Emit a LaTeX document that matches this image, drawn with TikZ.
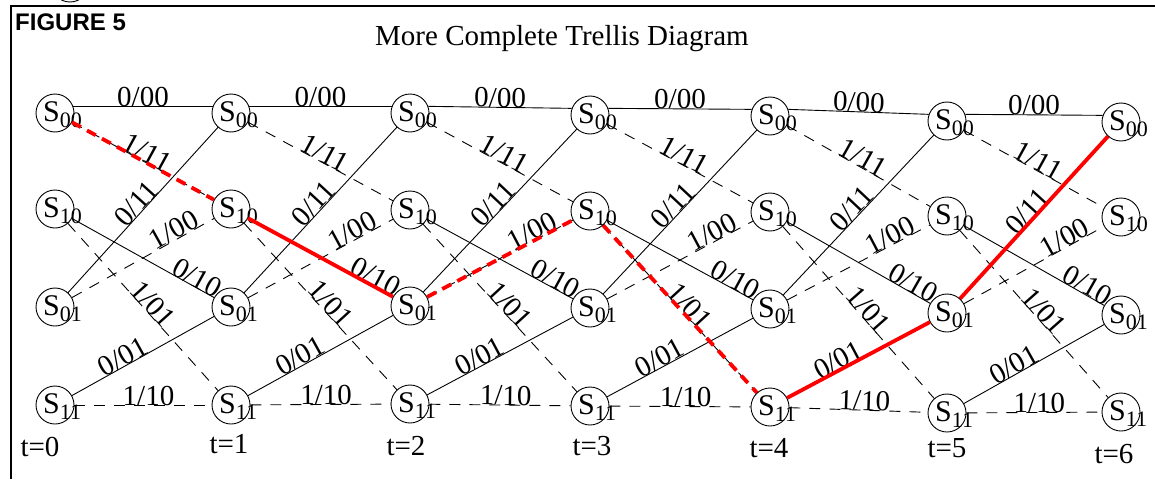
\documentclass[tikz,border=0pt]{standalone}
\usepackage{fontspec}
\setmainfont{Liberation Serif}
\newfontfamily\figsans{Liberation Sans}
\usetikzlibrary{calc}
\tikzset{
  st/.style={circle, draw=black, line width=0.9pt, minimum size=38pt, inner sep=0pt},
  stname/.style={anchor=base west, inner sep=0pt, font=\fontsize{30}{30}\selectfont},
  ln/.style={draw=black, line width=0.9pt},
  dsh/.style={draw=black, line width=0.9pt, dash pattern=on 11pt off 9pt},
  lbl/.style={sloped, anchor=base, inner sep=0pt, font=\fontsize{29}{29}\selectfont, text=black},
  redsolid/.style={draw=red, line width=3.8pt},
  reddash/.style={draw=red, line width=3.8pt, dash pattern=on 10pt off 7pt},
  tlbl/.style={anchor=base, inner sep=0pt, font=\fontsize{29}{29}\selectfont},
  frame/.style={draw=black, line width=2pt}
}
\newcommand{\stlabel}[1]{S\raisebox{-6pt}{\fontsize{22}{22}\selectfont #1}}
\begin{document}
\begin{tikzpicture}[x=1pt, y=-1pt]
\useasboundingbox (0,0) rectangle (1155,479);
% frame
\coordinate (fr1) at (10.5,479);
\coordinate (fr2) at (10.5,6);
\coordinate (fr3) at (1155,6);
\draw[frame] (fr1) -- (fr2) -- (fr3);
% cut-off remnant above the frame
\begin{scope}
\clip (0,0) rectangle (1155,5);
\node[anchor=base west, inner sep=0pt, font=\fontsize{22}{22}\selectfont] (rem) at (25,-1) {00};
\node[circle, draw, line width=0.9pt, minimum size=38pt, inner sep=0pt] (remc) at (70,-17) {};
\end{scope}
\node[anchor=base west, inner sep=0pt, font=\figsans\bfseries\fontsize{24}{24}\selectfont] (fig) at (15,30) {FIGURE 5};
\node[anchor=base west, inner sep=0pt, font=\fontsize{29}{29}\selectfont] (title) at (375,45) {More Complete Trellis Diagram};
% states
\foreach \i/\x/\ya/\yb/\yc/\yd in {0/55/113/209/307/405, 1/231/113/209/307/405, 2/410/113/210/306/404, 3/590/115/211/308/406, 4/770/116/212/309/407, 5/947/121/216/313/413, 6/1121/122/217/315/412}{
  \node[st] (a\i) at (\x,\ya) {};
  \node[st] (b\i) at (\x,\yb) {};
  \node[st] (c\i) at (\x,\yc) {};
  \node[st] (d\i) at (\x,\yd) {};
  \node[stname] (ta\i) at ($(a\i)+(-12,8)$) {\stlabel{00}};
  \node[stname] (tb\i) at ($(b\i)+(-12,8)$) {\stlabel{10}};
  \node[stname] (tc\i) at ($(c\i)+(-12,8)$) {\stlabel{01}};
  \node[stname] (td\i) at ($(d\i)+(-12,8)$) {\stlabel{11}};
}
% time labels
\node[tlbl] (t0) at (40,456) {t=0};
\node[tlbl] (t1) at (229,453) {t=1};
\node[tlbl] (t2) at (406,455) {t=2};
\node[tlbl] (t3) at (592,455) {t=3};
\node[tlbl] (t4) at (769,457) {t=4};
\node[tlbl] (t5) at (947,457) {t=5};
\node[tlbl] (t6) at (1114,463) {t=6};
% transitions
\foreach \i in {0,...,5}{
  \pgfmathtruncatemacro{\j}{\i+1}
  \draw[ln] (a\i.20) -- node[lbl, pos=.5] (l1-\i) {0/00} (a\j.160);
  \draw[dsh] (a\i) -- node[lbl, pos=.5] (l2-\i) {1/11} (b\j);
  \draw[ln] (c\i) -- node[lbl, pos=.5] (l3-\i) {0/11} (a\j);
  \draw[dsh] (c\i) -- node[lbl, pos=.75] (l4-\i) {1/00} (b\j);
  \draw[ln] (b\i) -- node[lbl, pos=.85] (l5-\i) {0/10} (c\j);
  \draw[dsh] (b\i) -- node[lbl, pos=.52] (l6-\i) {1/01} (d\j);
  \draw[ln] (d\i) -- node[lbl, pos=.39] (l7-\i) {0/01} (c\j);
  \draw[dsh] (d\i) -- node[lbl, pos=.54] (l8-\i) {1/10} (d\j);
}
% highlighted path
\draw[reddash] (a0) -- (b1);
\draw[redsolid] (b1) -- (c2);
\draw[reddash] (c2) -- (b3);
\draw[reddash] (b3) -- (d4);
\draw[redsolid] (d4) -- (c5);
\draw[redsolid] (c5) -- (a6);
\end{tikzpicture}
\end{document}
